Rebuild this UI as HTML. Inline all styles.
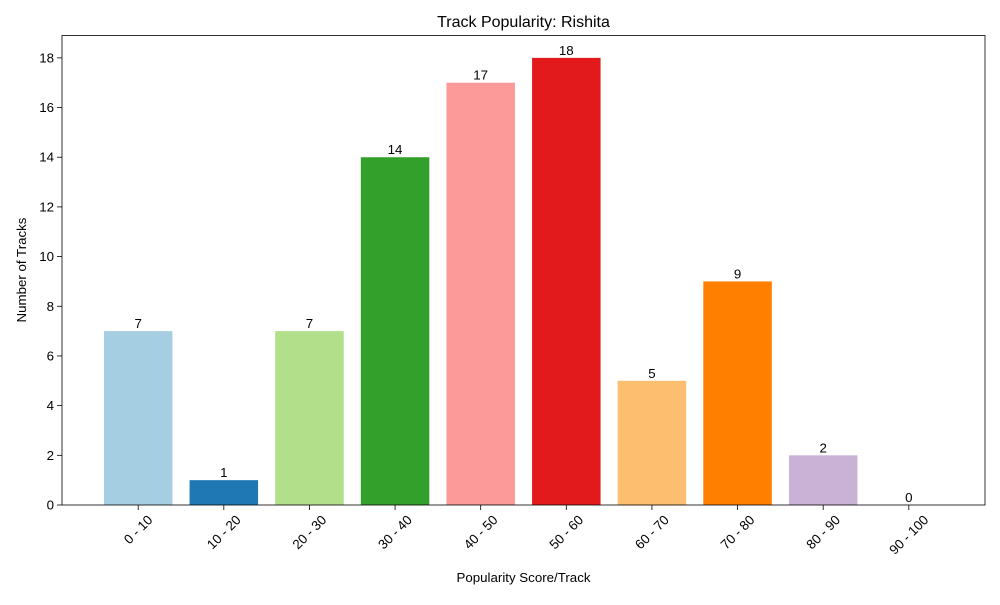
<!DOCTYPE html>
<html><head><meta charset="utf-8"><style>
body{margin:0;background:#fff;}
svg text{font-family:"Liberation Sans","DejaVu Sans",sans-serif;fill:#000;}
</style></head><body>
<svg id="chart" width="1000" height="600" viewBox="0 0 1000 600">
<rect width="1000" height="600" fill="#fff"/>
<text x="523.5" y="27" font-size="16" text-anchor="middle">Track Popularity: Rishita</text>
<text x="523.5" y="582" font-size="13.3" text-anchor="middle">Popularity Score/Track</text>
<text transform="translate(26,270) rotate(-90)" font-size="13.3" text-anchor="middle">Number of Tracks</text>
<g id="bars"></g><g id="axes"></g>
</svg>
<script>
const categories=["0 - 10","10 - 20","20 - 30","30 - 40","40 - 50","50 - 60","60 - 70","70 - 80","80 - 90","90 - 100"];
const counts=[7,1,7,14,17,18,5,9,2,0];
const yTicks=[0,2,4,6,8,10,12,14,16,18];
const colors=["#a6cee3","#1f78b4","#b2df8a","#33a02c","#fb9a99","#e31a1c","#fdbf6f","#ff7f00","#cab2d6","#6a3d9a"];
const NS="http://www.w3.org/2000/svg";
const L=62,R=985,T=35.5,B=505;
const n=categories.length;
const x0=-0.4-0.05*((n-1)+0.8);
const xr=(n-1)+0.4+0.05*((n-1)+0.8);
const x=v=>L+(v-x0)/(xr-x0)*(R-L);
const ymax=Math.max(...counts)*1.05;
const y=v=>B-v/ymax*(B-T);
function mk(tag,attrs,parent){const e=document.createElementNS(NS,tag);for(const k in attrs)e.setAttribute(k,attrs[k]);parent.appendChild(e);return e;}
const gb=document.getElementById('bars'),ga=document.getElementById('axes');
counts.forEach((c,i)=>{
 const r=mk('rect',{x:x(i-0.4),y:y(c),width:x(i+0.4)-x(i-0.4),height:B-y(c),fill:colors[i%colors.length]},gb);
 
 
 const t=mk('text',{x:x(i),y:y(c)-3,'font-size':13.3,'text-anchor':'middle'},gb);
 t.textContent=c;
 
 
 mk('line',{x1:x(i),x2:x(i),y1:B,y2:B+5,stroke:'#000','stroke-width':0.8},ga);
 const tl=mk('text',{'font-size':13.3,'text-anchor':'middle','dominant-baseline':'central'},ga);
 tl.textContent=categories[i];
 
 
 const w=tl.getComputedTextLength(), h=13;
 const half=(w+h)*0.7071/2;
 tl.setAttribute('transform',`translate(${x(i)},${B+8+half}) rotate(-45)`);
});
yTicks.forEach(v=>{
 mk('line',{x1:L-5,x2:L,y1:y(v),y2:y(v),stroke:'#000','stroke-width':0.8},ga);
 const t=mk('text',{x:L-8,y:y(v)+4.5,'font-size':13.3,'text-anchor':'end'},ga);
 t.textContent=v;
 
 
});
const fr=mk('rect',{x:L,y:T,width:R-L,height:B-T,fill:'none',stroke:'#000','stroke-width':0.8},ga);


</script>
</body></html>
